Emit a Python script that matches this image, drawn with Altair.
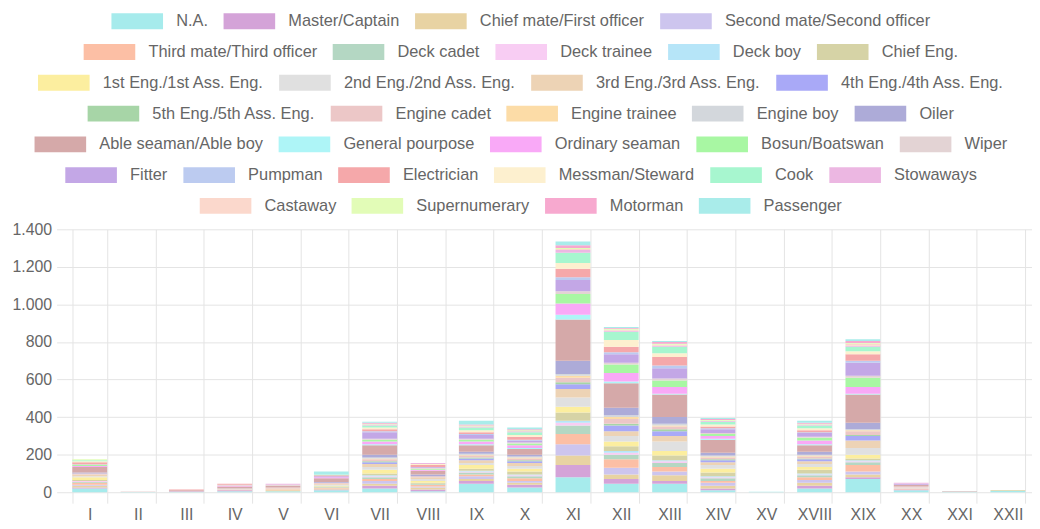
import altair as alt
import pandas as pd

FONT = "Liberation Sans"

categories = ["I", "II", "III", "IV", "V", "VI", "VII", "VIII", "IX", "X",
              "XI", "XII", "XIII", "XIV", "XV", "XVIII", "XIX", "XX", "XXI", "XXII"]

series = ["N.A.", "Master/Captain", "Chief mate/First officer", "Second mate/Second officer",
          "Third mate/Third officer", "Deck cadet", "Deck trainee", "Deck boy", "Chief Eng.",
          "1st Eng./1st Ass. Eng.", "2nd Eng./2nd Ass. Eng.", "3rd Eng./3rd Ass. Eng.",
          "4th Eng./4th Ass. Eng.", "5th Eng./5th Ass. Eng.", "Engine cadet", "Engine trainee",
          "Engine boy", "Oiler", "Able seaman/Able boy", "General pourpose", "Ordinary seaman",
          "Bosun/Boatswan", "Wiper", "Fitter", "Pumpman", "Electrician", "Messman/Steward",
          "Cook", "Stowaways", "Castaway", "Supernumerary", "Motorman", "Passenger"]

colors = ["#a6ebec", "#d4a3d8", "#e8d3a3", "#cdc5ee", "#fcbfa5", "#b4d7c3", "#f8cdf3",
          "#b6e5f8", "#d6d3a6", "#fcee9f", "#e0e0e0", "#edd3b5", "#a9a9f7", "#a7d5a7",
          "#ecc7c7", "#fcdca7", "#d3d7dc", "#adabd8", "#d5a9a9", "#aef5f7", "#f9a9f7",
          "#a8f7a3", "#e3d3d4", "#c3a7e6", "#bccbf0", "#f5a8aa", "#fdf0cf", "#a7f6cf",
          "#ecb7e2", "#fbd8cc", "#e2fcb7", "#f7a9cf", "#a9ecea"]

# values per category, in the order of `series`
v_I    = [20, 5, 10, 5, 10, 5, 5, 0, 5, 15, 5, 10, 0, 0, 5, 0, 0, 5, 30, 0, 5, 5, 5, 0, 0, 10, 5, 5, 0, 0, 5, 0, 0]
v_II   = [1, 0, 0, 0, 0, 0, 0, 0, 0, 0, 0, 0, 0, 0, 0, 0, 0, 0, 1, 0, 0, 0, 0, 0, 0, 0, 0, 0, 0, 0, 0, 0, 0]
v_III  = [2, 3, 0, 0, 0, 0, 0, 0, 0, 0, 0, 0, 0, 0, 0, 0, 0, 0, 5, 0, 0, 0, 0, 0, 0, 5, 0, 0, 0, 0, 0, 0, 0]
v_IV   = [5, 5, 0, 0, 5, 0, 0, 0, 0, 0, 5, 0, 0, 0, 0, 0, 0, 0, 10, 0, 5, 0, 5, 0, 0, 5, 0, 0, 0, 0, 0, 0, 0]
v_V    = [5, 0, 5, 0, 5, 0, 0, 0, 0, 0, 0, 5, 0, 0, 5, 0, 0, 0, 10, 0, 0, 0, 5, 0, 0, 0, 0, 0, 5, 0, 0, 0, 0]
v_VI   = [10, 5, 5, 0, 5, 5, 0, 0, 0, 5, 5, 5, 0, 0, 5, 0, 0, 5, 20, 0, 5, 0, 0, 5, 0, 5, 0, 5, 0, 0, 0, 0, 15]
v_VII  = [20, 15, 10, 15, 10, 10, 5, 5, 10, 20, 15, 15, 10, 5, 10, 5, 5, 15, 50, 5, 15, 10, 5, 35, 5, 10, 10, 10, 5, 0, 5, 5, 5]
v_VIII = [5, 10, 10, 5, 10, 5, 0, 0, 5, 10, 10, 10, 0, 0, 5, 0, 0, 10, 20, 0, 5, 5, 5, 5, 0, 10, 5, 0, 5, 0, 0, 0, 0]
v_IX   = [45, 15, 10, 15, 10, 10, 5, 5, 10, 20, 10, 15, 10, 5, 10, 5, 5, 10, 35, 5, 15, 10, 5, 20, 5, 10, 10, 15, 5, 0, 5, 5, 20]
v_X    = [25, 15, 10, 10, 15, 10, 5, 5, 15, 15, 15, 15, 10, 5, 10, 5, 5, 10, 30, 5, 15, 10, 5, 10, 5, 15, 10, 15, 5, 0, 5, 5, 10]
v_XI   = [80, 65, 50, 60, 55, 45, 15, 10, 45, 30, 50, 45, 25, 10, 25, 10, 10, 70, 220, 25, 60, 50, 15, 60, 15, 45, 30, 55, 15, 5, 5, 15, 20]
v_XII  = [45, 25, 25, 35, 45, 25, 10, 10, 25, 25, 30, 25, 30, 10, 25, 10, 10, 40, 130, 10, 45, 45, 10, 45, 10, 30, 35, 45, 5, 5, 5, 5, 5]
v_XIII = [45, 15, 30, 20, 25, 20, 10, 5, 25, 25, 50, 30, 25, 10, 15, 5, 10, 35, 120, 5, 35, 35, 10, 55, 15, 45, 20, 35, 5, 5, 5, 10, 5]
v_XIV  = [10, 10, 15, 15, 10, 15, 5, 5, 20, 20, 20, 15, 10, 5, 10, 5, 5, 15, 70, 5, 15, 10, 5, 20, 5, 10, 10, 15, 5, 0, 5, 5, 5]
v_XV   = [3, 0, 0, 0, 0, 0, 0, 0, 0, 0, 0, 0, 0, 0, 0, 0, 0, 0, 0, 0, 0, 0, 0, 0, 0, 0, 0, 0, 0, 0, 0, 0, 0]
v_XVIII = [20, 15, 15, 15, 15, 10, 5, 5, 20, 15, 15, 15, 10, 5, 10, 5, 5, 15, 35, 5, 20, 15, 5, 20, 5, 10, 10, 15, 5, 0, 5, 5, 10]
v_XIX  = [70, 10, 15, 15, 35, 15, 5, 5, 10, 20, 35, 40, 25, 5, 20, 5, 5, 35, 150, 5, 35, 50, 10, 70, 10, 35, 15, 25, 5, 10, 5, 10, 10]
v_XX   = [10, 5, 0, 0, 5, 0, 0, 0, 0, 0, 5, 0, 0, 0, 5, 0, 0, 0, 10, 0, 0, 0, 0, 5, 0, 0, 0, 0, 5, 0, 0, 0, 0]
v_XXI  = [2, 0, 0, 0, 0, 0, 0, 0, 0, 0, 0, 0, 0, 0, 0, 0, 0, 0, 3, 0, 0, 0, 0, 0, 0, 0, 0, 0, 0, 0, 0, 0, 0]
v_XXII = [6, 0, 0, 0, 0, 0, 0, 0, 4, 0, 0, 0, 0, 0, 0, 0, 0, 0, 0, 0, 0, 0, 0, 0, 0, 0, 0, 0, 0, 0, 0, 0, 0]

values_by_category = [v_I, v_II, v_III, v_IV, v_V, v_VI, v_VII, v_VIII, v_IX, v_X,
                      v_XI, v_XII, v_XIII, v_XIV, v_XV, v_XVIII, v_XIX, v_XX, v_XXI, v_XXII]

# legend rows as laid out in the original (centred flow)
legend_rows = [4, 5, 4, 5, 5, 6, 4]

rows = []
for cat, vals in zip(categories, values_by_category):
    for si, (s, v) in enumerate(zip(series, vals)):
        if v > 0:
            rows.append({"cat": cat, "series": s, "idx": si, "value": v})
df = pd.DataFrame(rows)

GRID = "#e4e4e4"
TXT = "#666666"

# the view spans the y-axis labels too, so that the legend rows are centred on
# the whole chart (as in the original) rather than on the plotting area only
VIEW_W = 1030
PLOT_LEFT = 56
PLOT_RIGHT = 1030

main = alt.Chart(df).mark_bar().encode(
    x=alt.X("cat:N", sort=categories, title=None,
            scale=alt.Scale(paddingInner=0.28, paddingOuter=0.14,
                            range=[PLOT_LEFT, PLOT_RIGHT]),
            axis=alt.Axis(labelAngle=0, tickBand="extent", grid=True, gridColor=GRID,
                          tickColor=GRID, tickSize=11, domain=False, labelFont=FONT,
                          labelFontSize=16, labelColor=TXT, labelPadding=3)),
    y=alt.Y("value:Q", stack="zero", title=None,
            scale=alt.Scale(domain=[0, 1400], nice=False),
            axis=alt.Axis(values=list(range(0, 1401, 200)), gridColor=GRID, tickColor=GRID,
                          tickSize=9, domain=False, labelFont=FONT, labelFontSize=16,
                          labelColor=TXT, labelPadding=5, offset=-PLOT_LEFT,
                          labelExpr="replace(format(datum.value, ','), ',', '.')")),
    color=alt.Color("series:N", scale=alt.Scale(domain=series, range=colors), legend=None),
    order=alt.Order("idx:Q", sort="ascending"),
    tooltip=["cat:N", "series:N", "value:Q"],
).properties(width=VIEW_W, height=265)

legend_charts = []
start = 0
for n in legend_rows:
    names = series[start:start + n]
    cols = colors[start:start + n]
    start += n
    lc = alt.Chart(pd.DataFrame({"series": names})).mark_rect().encode(
        color=alt.Color("series:N", sort=names,
                        scale=alt.Scale(domain=names, range=cols),
                        legend=alt.Legend(orient="top", direction="horizontal", columns=n,
                                          title=None, symbolType="M-3.25,-1H3.25V1H-3.25Z",
                                          symbolSize=256, symbolOffset=18, labelOffset=31,
                                          columnPadding=15, symbolStrokeWidth=0,
                                          labelFont=FONT, labelFontSize=16.5, labelColor=TXT,
                                          labelLimit=400, offset=0, padding=0))
    ).transform_filter("false").properties(width=1, height=1)
    legend_charts.append(lc)

legend_block = alt.vconcat(*legend_charts, spacing=13, center=True).resolve_scale(color="independent")

chart = alt.vconcat(legend_block, main, spacing=6, center=True).resolve_scale(
    color="independent"
).properties(
    padding={"left": 2, "top": 3, "right": 0, "bottom": 0}
).configure_view(stroke=None)

chart.save("out.html", embed_options={"renderer": "svg", "actions": False})
